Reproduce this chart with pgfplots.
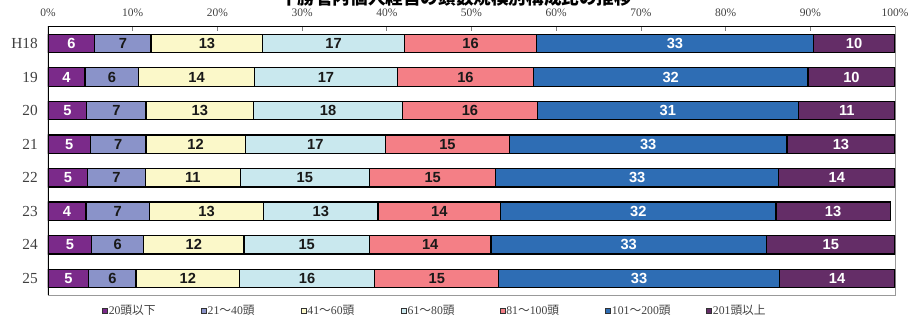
\documentclass[border=0pt]{standalone}
\usepackage{fontspec}
\usepackage{pgfplots}
\usepackage{pgfplotstable}
\pgfplotsset{compat=1.18}
\setmainfont{Liberation Serif}
\newfontfamily\cjk{Noto Sans CJK JP}
\newfontfamily\barfont{Liberation Sans}

\definecolor{cA}{HTML}{7B2A8A}
\definecolor{cB}{HTML}{8A93C9}
\definecolor{cC}{HTML}{FBF8C9}
\definecolor{cD}{HTML}{C9E8EE}
\definecolor{cE}{HTML}{F47F86}
\definecolor{cF}{HTML}{2E6DB4}
\definecolor{cG}{HTML}{642D67}
\definecolor{txt}{HTML}{404040}

% Share (%) of farms by herd size; y = 7 is H18, y = 0 is 25
\pgfplotstableread{
y  a     b     c      d      e      f      g
7  5.52  6.64  13.21  16.70  15.63  32.64   9.66
6  4.38  6.32  13.69  16.86  16.07  32.40  10.28
5  4.57  7.00  12.70  17.61  15.88  30.85  11.39
4  5.00  6.57  11.71  16.55  14.66  32.75  12.76
3  4.69  6.80  11.20  15.26  14.93  33.37  13.75
2  4.49  7.49  13.49  13.49  14.49  32.49  13.49
1  5.16  6.14  11.83  14.82  14.34  32.55  15.16
0  4.81  5.58  12.23  15.95  14.66  33.10  13.67
}\shares

% segment label: the rounded share, set in the bold sans text font
\newcommand\seglabel[1]{\textcolor{#1}{%
  \barfont\bfseries\fontsize{11pt}{12pt}\selectfont
  \pgfmathprintnumber[fixed,precision=0,assume math mode=true]{\pgfplotspointmeta}}}

\pgfplotsset{
  seg/.style={
    fill=#1, draw=black, line width=0.9pt,
    legend image code/.code={%
      \draw[##1, line width=0.5pt, draw=black!80] (0pt,-2pt) rectangle (4pt,2pt);},
  },
  light/.style={nodes near coords={\seglabel{black!90}}},
  dark/.style={nodes near coords={\seglabel{white}}},
}

\begin{document}
\begin{tikzpicture}
\path[use as bounding box] (0,0) rectangle (682.5pt,-241.5pt);
\node[font=\cjk\bfseries\fontsize{13.2pt}{14pt}\selectfont, anchor=base]
  at (342pt,-3.4pt) {十勝管内個人経営の頭数規模別構成比の推移};
\begin{axis}[
  at={(36pt,-20pt)}, anchor=north west,
  scale only axis, width=635.25pt, height=201.4pt,
  xbar stacked, bar width=13.8pt,
  xmin=0, xmax=100, ymin=-0.5, ymax=7.5,
  xtick={0,10,...,100},
  xticklabels={0\%,10\%,20\%,30\%,40\%,50\%,60\%,70\%,80\%,90\%,100\%},
  xtick pos=upper, xticklabel pos=upper,
  xtick align=inside, major tick length=3pt,
  xtick style={draw=gray, line width=0.5pt},
  xticklabel style={font=\fontsize{8.6pt}{9pt}\selectfont, text=txt,
    inner sep=0pt, anchor=south, yshift=7.5pt},
  ytick={0,...,7},
  yticklabels={25,24,23,22,21,20,19,H18},
  ytick style={draw=none},
  yticklabel style={font=\fontsize{11.5pt}{12pt}\selectfont, text=txt,
    inner sep=0pt, anchor=east, xshift=-7.5pt},
  axis line style={draw=gray!80, line width=0.6pt},
  point meta=explicit symbolic,
  every axis plot post/.append style={
    every node near coord/.append style={anchor=center, inner sep=0pt}},
  legend columns=7,
  legend style={draw=none, fill=none, inner sep=0pt,
    font=\fontsize{8.8pt}{10pt}\selectfont, text=txt,
    at={(rel axis cs:0.0634,-0.0588)}, anchor=west,
    /tikz/every even column/.append style={column sep=0pt},
    nodes={inner sep=0.6pt}},
]
\addplot[seg=cA, dark]  table[x=a, y=y, meta=a] {\shares};
\addplot[seg=cB, light] table[x=b, y=y, meta=b] {\shares};
\addplot[seg=cC, light] table[x=c, y=y, meta=c] {\shares};
\addplot[seg=cD, light] table[x=d, y=y, meta=d] {\shares};
\addplot[seg=cE, light] table[x=e, y=y, meta=e] {\shares};
\addplot[seg=cF, dark]  table[x=f, y=y, meta=f] {\shares};
\addplot[seg=cG, dark]  table[x=g, y=y, meta=g] {\shares};
\legend{
  \makebox[68.5pt][l]{20{\cjk 頭以下}},
  \makebox[69.1pt][l]{21{\cjk ～}40{\cjk 頭}},
  \makebox[69.5pt][l]{41{\cjk ～}60{\cjk 頭}},
  \makebox[68.3pt][l]{61{\cjk ～}80{\cjk 頭}},
  \makebox[73.5pt][l]{81{\cjk ～}100{\cjk 頭}},
  \makebox[70pt][l]{101{\cjk ～}200{\cjk 頭}},
  \makebox[50pt][l]{201{\cjk 頭以上}}}
\draw[black, line width=0.9pt] (rel axis cs:0,0) -- (rel axis cs:0,1) -- (rel axis cs:1,1);
\end{axis}
\end{tikzpicture}
\end{document}
